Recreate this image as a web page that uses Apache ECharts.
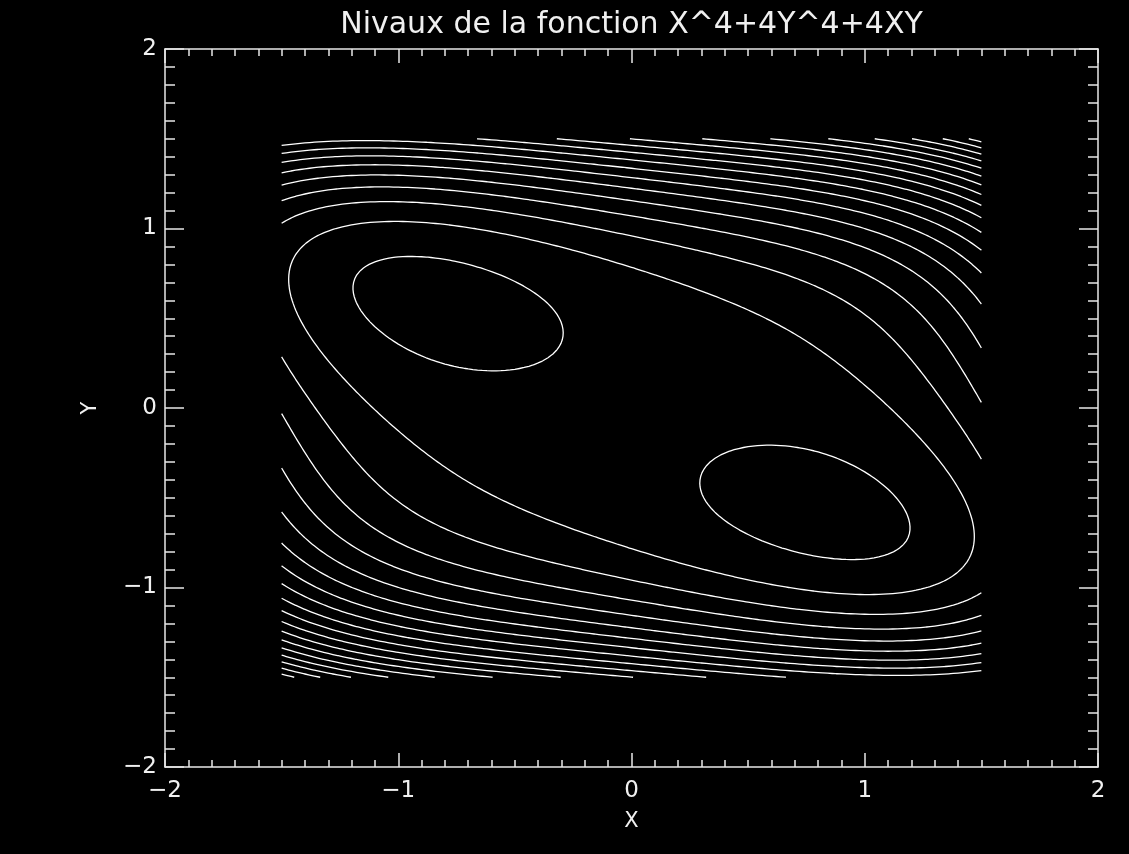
<!DOCTYPE html>
<html>
<head>
<meta charset="utf-8">
<script src="https://cdn.jsdelivr.net/npm/echarts@6/dist/echarts.min.js"></script>
<style>
html,body{margin:0;padding:0;background:#000;}
#c{width:1129px;height:854px;}
</style>
</head>
<body>
<div id="c"></div>
<script>
// ---- data ----
const titleText = 'Nivaux de la fonction X^4+4Y^4+4XY';
const xTickValues = [-2, -1, 0, 1, 2];
const yTickValues = [-2, -1, 0, 1, 2];
// contour levels
const levels = [-0.36, 1.51, 3.38, 5.25, 7.12, 8.99, 10.86, 12.73, 14.60, 16.47,
                18.34, 20.21, 22.08, 23.95, 25.82, 27.69, 29.56, 31.43, 33.30];
// sampled domain of the function named in the title
const domainX = [-1.5, 1.5];
const domainY = [-1.5, 1.5];
const gridCount = 151;
function field(x, y) { return Math.pow(x, 4) + 4 * Math.pow(y, 4) + 4 * x * y; }

// ---- grid ----
const gx = [], gy = [];
for (let i = 0; i < gridCount; i++) {
  gx.push(domainX[0] + (domainX[1] - domainX[0]) * i / (gridCount - 1));
  gy.push(domainY[0] + (domainY[1] - domainY[0]) * i / (gridCount - 1));
}
const Z = [];
for (let i = 0; i < gridCount; i++) {
  Z.push([]);
  for (let j = 0; j < gridCount; j++) Z[i].push(field(gx[i], gy[j]));
}

// ---- marching squares with chaining ----
function contour(lv) {
  const pts = {}; const segs = [];
  function edgePoint(key, x1, y1, z1, x2, y2, z2) {
    if (!(key in pts)) {
      const t = (lv - z1) / (z2 - z1);
      pts[key] = [x1 + t * (x2 - x1), y1 + t * (y2 - y1)];
    }
    return key;
  }
  for (let i = 0; i < gridCount - 1; i++) {
    for (let j = 0; j < gridCount - 1; j++) {
      const a = Z[i][j], b = Z[i + 1][j], c = Z[i + 1][j + 1], d = Z[i][j + 1];
      const e = [];
      if ((a < lv) !== (b < lv)) e.push(edgePoint('h' + i + '_' + j, gx[i], gy[j], a, gx[i + 1], gy[j], b));
      if ((b < lv) !== (c < lv)) e.push(edgePoint('v' + (i + 1) + '_' + j, gx[i + 1], gy[j], b, gx[i + 1], gy[j + 1], c));
      if ((d < lv) !== (c < lv)) e.push(edgePoint('h' + i + '_' + (j + 1), gx[i], gy[j + 1], d, gx[i + 1], gy[j + 1], c));
      if ((a < lv) !== (d < lv)) e.push(edgePoint('v' + i + '_' + j, gx[i], gy[j], a, gx[i], gy[j + 1], d));
      if (e.length === 2) segs.push([e[0], e[1]]);
      else if (e.length === 4) {
        const m = (a + b + c + d) / 4;
        if ((m < lv) === (a < lv)) { segs.push([e[0], e[1]]); segs.push([e[2], e[3]]); }
        else { segs.push([e[0], e[3]]); segs.push([e[1], e[2]]); }
      }
    }
  }
  const adj = {};
  segs.forEach((s, k) => { (adj[s[0]] = adj[s[0]] || []).push(k); (adj[s[1]] = adj[s[1]] || []).push(k); });
  const used = new Array(segs.length).fill(false);
  const lines = [];
  for (let k = 0; k < segs.length; k++) {
    if (used[k]) continue;
    used[k] = true;
    const chain = [segs[k][0], segs[k][1]];
    let cur = segs[k][1];
    while (true) {
      const nx = (adj[cur] || []).find(q => !used[q]);
      if (nx === undefined) break;
      used[nx] = true;
      cur = segs[nx][0] === cur ? segs[nx][1] : segs[nx][0];
      chain.push(cur);
    }
    cur = segs[k][0];
    while (true) {
      const nx = (adj[cur] || []).find(q => !used[q]);
      if (nx === undefined) break;
      used[nx] = true;
      cur = segs[nx][0] === cur ? segs[nx][1] : segs[nx][0];
      chain.unshift(cur);
    }
    lines.push({ coords: chain.map(key => pts[key]) });
  }
  return lines;
}
let contourLines = [];
levels.forEach(lv => { contourLines = contourLines.concat(contour(lv)); });

// ---- chart ----
const FONT = 'DejaVu Sans';
const fmt = v => String(v).replace('-', '\u2212');
function xAx(pos, showLabel) {
  return {
    type: 'value', position: pos, min: -2, max: 2, interval: 1,
    axisLine: { show: true, onZero: false, lineStyle: { color: '#e8e8e8', width: 1.5 } },
    axisTick: { show: true, inside: true, length: 14, lineStyle: { color: '#e8e8e8', width: 1.5 } },
    minorTick: { show: true, splitNumber: 10, length: 7, lineStyle: { color: '#e8e8e8', width: 1.5 } },
    splitLine: { show: false },
    axisLabel: { show: showLabel, color: '#f0f0f0', fontFamily: FONT, fontSize: 23, margin: 13, formatter: fmt },
    name: showLabel ? 'X' : '', nameLocation: 'middle', nameGap: 44,
    nameTextStyle: { color: '#f0f0f0', fontFamily: FONT, fontSize: 21 }
  };
}
function yAx(pos, showLabel) {
  return {
    type: 'value', position: pos, min: -2, max: 2, interval: 1,
    axisLine: { show: true, onZero: false, lineStyle: { color: '#e8e8e8', width: 1.5 } },
    axisTick: { show: true, inside: true, length: 19, lineStyle: { color: '#e8e8e8', width: 1.5 } },
    minorTick: { show: true, splitNumber: 10, length: 10, lineStyle: { color: '#e8e8e8', width: 1.5 } },
    splitLine: { show: false },
    axisLabel: { show: showLabel, color: '#f0f0f0', fontFamily: FONT, fontSize: 23, margin: 8, formatter: fmt },
    name: showLabel ? 'Y' : '', nameLocation: 'middle', nameGap: 64, nameRotate: 90,
    nameTextStyle: { color: '#f0f0f0', fontFamily: FONT, fontSize: 21 }
  };
}
const chart = echarts.init(document.getElementById('c'), null, { renderer: 'canvas' });
chart.setOption({
  backgroundColor: '#000',
  animation: false,
  graphic: [{
    type: 'text', left: null, x: 631.5, y: 25,
    style: {
      text: titleText, fill: '#f0f0f0', font: 'normal 30px "DejaVu Sans"',
      textAlign: 'center', textVerticalAlign: 'middle'
    }
  }],
  grid: { left: 165, right: 31, top: 49, bottom: 87 },
  xAxis: [xAx('bottom', true), xAx('top', false)],
  yAxis: [yAx('left', true), yAx('right', false)],
  series: [{
    type: 'lines', coordinateSystem: 'cartesian2d', xAxisIndex: 0, yAxisIndex: 0,
    polyline: true, silent: true,
    lineStyle: { color: '#ffffff', width: 1.3, opacity: 1 },
    data: contourLines
  }]
});
</script>
</body>
</html>
